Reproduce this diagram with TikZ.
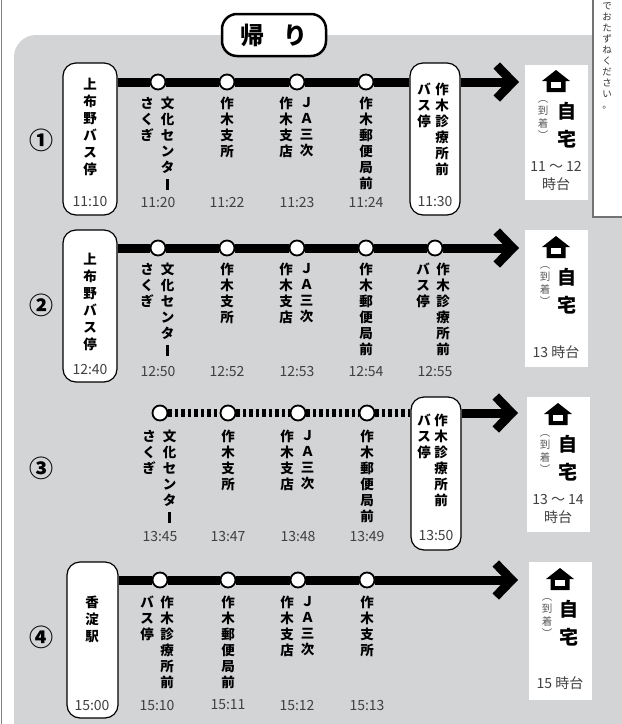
\documentclass[tikz,border=0pt]{standalone}
\usepackage{fontspec}
\setmainfont{Noto Sans CJK JP}
\usetikzlibrary{arrows.meta,positioning}
\definecolor{panel}{HTML}{D3D4D6}
\newcommand{\tatebar}{\rule[-1.5pt]{2.4pt}{11.5pt}}

\begin{document}
\begin{tikzpicture}[x=1pt,y=-1pt]
	\tikzstyle{Stop}	= [circle, draw, line width=1.8pt, fill=white, minimum size=15pt, inner sep=0pt]
	\tikzstyle{Terminal}	= [draw, line width=1.2pt, fill=white, rounded corners=13pt, minimum width=54pt, minimum height=152pt, inner sep=0pt]
	\tikzstyle{Col}		= [font=\bfseries\fontsize{13.5}{16}\selectfont, align=center, inner sep=0pt, anchor=north]
	\tikzstyle{Name}	= [Col, font=\bfseries\fontsize{13.5}{17}\selectfont]
	\tikzstyle{Time}	= [font=\fontsize{14}{18}\selectfont, text=black!75, align=center, inner sep=0pt]
	\tikzstyle{Home}	= [fill=white, minimum width=63pt, inner sep=0pt]
	\tikzstyle{Arrive}	= [Col, font=\fontsize{10.5}{12.5}\selectfont, text=black!65]
	\tikzstyle{Self}	= [Col, font=\bfseries\fontsize{19}{28}\selectfont]
	\tikzstyle{Num}		= [font=\bfseries\fontsize{24}{24}\selectfont, inner sep=0pt]
	\tikzstyle{Route}	= [line width=9pt]
	\tikzstyle{Walk}	= [line width=8pt, dash pattern=on 3.5pt off 3pt]
	\tikzstyle{Go}		= [line width=9pt, -{Straight Barb[length=16pt, width=33pt]}]
	\tikzset{house/.pic={
		\fill (0,0) -- (14,11) -- (9.5,11) -- (9.5,22) -- (-9.5,22) -- (-9.5,11) -- (-14,11) -- cycle;
		\fill [white] (-5,12) rectangle (5,18);
	}}

	\useasboundingbox (0,0) rectangle (622,724);
	\clip (0,0) rectangle (622,724);
	\fill [panel, rounded corners=22pt] (14,35) rectangle (680,780);
	\draw [gray, line width=0.8pt] (1.5,0) -- (1.5,724);

	% notice at top right
	\node (memo) at (612,100) [fill=white, draw=black!55, line width=1.5pt, minimum width=38pt, minimum height=234pt] {};
	\node (memot) at (607,2) [Col, font=\fontsize{9.5}{11}\selectfont, text=black!80] {で\\お\\た\\ず\\ね\\く\\だ\\さ\\い\\。};

	% title
	\node (title) at (274,35) [draw, line width=2.5pt, fill=white, rounded corners=15pt, minimum width=104pt, minimum height=42pt, inner sep=0pt, font=\bfseries\fontsize{24}{24}\selectfont] {帰\hspace{0.8em}り};

	% row 1
	\node (n1) at (42,140) [Num] {①};
	\node (b1) at (90,139) [Terminal] {};
	\node (b1l) at (90,78) [Name] {上\\布\\野\\バ\\ス\\停};
	\node (b1t) at (90,202) [Time] {11:10};
	\node (a11) at (158,82) [Stop] {};
	\node (a12) at (227,82) [Stop] {};
	\node (a13) at (297,82) [Stop] {};
	\node (a14) at (366,82) [Stop] {};
	\node (l11) at (167.5,97) [Col] {文\\化\\セ\\ン\\タ\\\tatebar};
	\node (m11) at (147,97) [Col] {さ\\く\\ぎ};
	\node (l12) at (227,97) [Col] {作\\木\\支\\所};
	\node (l13) at (306.5,97) [Col] {Ｊ\\Ａ\\三\\次};
	\node (m13) at (286,97) [Col] {作\\木\\支\\店};
	\node (l14) at (366,97) [Col] {作\\木\\郵\\便\\局\\前};
	\node (t11) at (158,203) [Time] {11:20};
	\node (t12) at (227,203) [Time] {11:22};
	\node (t13) at (297,203) [Time] {11:23};
	\node (t14) at (366,203) [Time] {11:24};
	\node (e1) at (435,139) [Terminal, minimum width=50pt] {};
	\node (e1l) at (442,83) [Col] {作\\木\\診\\療\\所\\前};
	\node (e1m) at (424,83) [Col] {バ\\ス\\停};
	\node (e1t) at (435,202) [Time] {11:30};
	\coordinate (k1) at (519,82);
	\node (h1) at (556.5,132.5) [Home, minimum height=135pt] {};
	\pic at (556,70) {house};
	\node (h1a) at (543,100) [Arrive] {︵\\到\\着\\︶};
	\node (h1b) at (567,102) [Self] {自\\宅};
	\node (h1t) at (556,176) [Time] {11 ～ 12\\時台};

	\draw [Route] (a11 -| b1.east) -- (a11);
	\draw [Route] (a11) -- (a12);
	\draw [Route] (a12) -- (a13);
	\draw [Route] (a13) -- (a14);
	\draw [Route] (a14) -- (a14 -| e1.west);
	\draw [Go] (a14 -| e1.east) -- (k1);

	% row 2
	\node (n2) at (42,305) [Num] {②};
	\node (b2) at (90,306) [Terminal] {};
	\node (b2l) at (90,253) [Name] {上\\布\\野\\バ\\ス\\停};
	\node (b2t) at (90,370) [Time] {12:40};
	\node (a21) at (158,248) [Stop] {};
	\node (a22) at (227,248) [Stop] {};
	\node (a23) at (297,248) [Stop] {};
	\node (a24) at (366,248) [Stop] {};
	\node (a25) at (435,248) [Stop] {};
	\node (l21) at (167.5,263) [Col] {文\\化\\セ\\ン\\タ\\\tatebar};
	\node (m21) at (147,263) [Col] {さ\\く\\ぎ};
	\node (l22) at (227,263) [Col] {作\\木\\支\\所};
	\node (l23) at (306.5,263) [Col] {Ｊ\\Ａ\\三\\次};
	\node (m23) at (286,263) [Col] {作\\木\\支\\店};
	\node (l24) at (366,263) [Col] {作\\木\\郵\\便\\局\\前};
	\node (l25) at (443,263) [Col] {作\\木\\診\\療\\所\\前};
	\node (m25) at (423,263) [Col] {バ\\ス\\停};
	\node (t21) at (158,372) [Time] {12:50};
	\node (t22) at (227,372) [Time] {12:52};
	\node (t23) at (297,372) [Time] {12:53};
	\node (t24) at (366,372) [Time] {12:54};
	\node (t25) at (435,372) [Time] {12:55};
	\coordinate (k2) at (519,248);
	\node (h2) at (556.5,298.5) [Home, minimum height=137pt] {};
	\pic at (556,236) {house};
	\node (h2a) at (545,266) [Arrive] {︵\\到\\着\\︶};
	\node (h2b) at (567,268) [Self] {自\\宅};
	\node (h2t) at (556,352) [Time] {13 時台};

	\draw [Route] (a21 -| b2.east) -- (a21);
	\draw [Route] (a21) -- (a22);
	\draw [Route] (a22) -- (a23);
	\draw [Route] (a23) -- (a24);
	\draw [Route] (a24) -- (a25);
	\draw [Go] (a25) -- (k2);

	% row 3
	\node (n3) at (42,468) [Num] {③};
	\node (a31) at (160,413) [Stop] {};
	\node (a32) at (228,413) [Stop] {};
	\node (a33) at (298,413) [Stop] {};
	\node (a34) at (367,413) [Stop] {};
	\node (l31) at (169.5,430) [Col] {文\\化\\セ\\ン\\タ\\\tatebar};
	\node (m31) at (149,430) [Col] {さ\\く\\ぎ};
	\node (l32) at (228,430) [Col] {作\\木\\支\\所};
	\node (l33) at (307.5,430) [Col] {Ｊ\\Ａ\\三\\次};
	\node (m33) at (287,430) [Col] {作\\木\\支\\店};
	\node (l34) at (367,430) [Col] {作\\木\\郵\\便\\局\\前};
	\node (t31) at (160,537) [Time] {13:45};
	\node (t32) at (228,537) [Time] {13:47};
	\node (t33) at (298,537) [Time] {13:48};
	\node (t34) at (367,537) [Time] {13:49};
	\node (e3) at (436,473.5) [Terminal, minimum width=50pt, minimum height=153pt] {};
	\node (e3l) at (441,414) [Col] {作\\木\\診\\療\\所\\前};
	\node (e3m) at (424,414) [Col] {バ\\ス\\停};
	\node (e3t) at (436,536) [Time] {13:50};
	\coordinate (k3) at (518,413);
	\node (h3) at (558.5,464.5) [Home, minimum height=135pt] {};
	\pic at (558,403) {house};
	\node (h3a) at (545,434) [Arrive] {︵\\到\\着\\︶};
	\node (h3b) at (568,435) [Self] {自\\宅};
	\node (h3t) at (558,509) [Time] {13 ～ 14\\時台};

	\draw [Walk] (a31) -- (a32);
	\draw [Walk] (a32) -- (a33);
	\draw [Walk] (a33) -- (a34);
	\draw [Walk] (a34) -- (a34 -| e3.west);
	\draw [Go] (a34 -| e3.east) -- (k3);

	% row 4
	\node (n4) at (42,637) [Num] {④};
	\node (b4) at (92.5,640) [Terminal, minimum width=51pt, minimum height=156pt] {};
	\node (b4l) at (92,596) [Name] {香\\淀\\駅};
	\node (b4t) at (92,705) [Time] {15:00};
	\node (a41) at (160,580) [Stop] {};
	\node (a42) at (228,580) [Stop] {};
	\node (a43) at (298,580) [Stop] {};
	\node (a44) at (367,580) [Stop] {};
	\node (l41) at (167,596) [Col] {作\\木\\診\\療\\所\\前};
	\node (m41) at (147,596) [Col] {バ\\ス\\停};
	\node (l42) at (228,596) [Col] {作\\木\\郵\\便\\局\\前};
	\node (l43) at (307.5,596) [Col] {Ｊ\\Ａ\\三\\次};
	\node (m43) at (287,596) [Col] {作\\木\\支\\店};
	\node (l44) at (367,596) [Col] {作\\木\\支\\所};
	\node (t41) at (157,705) [Time] {15:10};
	\node (t42) at (228,705) [Time] {15:11};
	\node (t43) at (297,705) [Time] {15:12};
	\node (t44) at (367,705) [Time] {15:13};
	\coordinate (k4) at (518,580);
	\node (h4) at (560.5,631) [Home, minimum height=138pt] {};
	\pic at (560,568) {house};
	\node (h4a) at (547,598) [Arrive] {︵\\到\\着\\︶};
	\node (h4b) at (569,600) [Self] {自\\宅};
	\node (h4t) at (560,683) [Time] {15 時台};

	\draw [Route] (a41 -| b4.east) -- (a41);
	\draw [Route] (a41) -- (a42);
	\draw [Route] (a42) -- (a43);
	\draw [Route] (a43) -- (a44);
	\draw [Go] (a44) -- (k4);
\end{tikzpicture}
\end{document}
